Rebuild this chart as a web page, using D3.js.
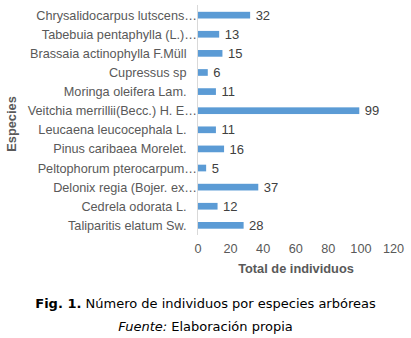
<!DOCTYPE html>
<html><head><meta charset="utf-8">
<script src="https://cdn.jsdelivr.net/npm/d3@7"></script>
<style>
body{margin:0;background:#fff;}
svg{display:block;}
</style></head>
<body>
<script>
const categories = ["Chrysalidocarpus lutscens", "Tabebuia pentaphylla (L.)", "Brassaia actinophylla F.Müll", "Cupressus sp", "Moringa oleifera Lam.", "Veitchia merrillii(Becc.) H. E", "Leucaena leucocephala L.", "Pinus caribaea Morelet.", "Peltophorum pterocarpum", "Delonix regia (Bojer. ex", "Cedrela odorata L.", "Taliparitis elatum Sw."];
const truncated = [true, true, false, false, false, true, false, false, true, true, false, false];
const values = [32, 13, 15, 6, 11, 99, 11, 16, 5, 37, 12, 28];
const xTicks = [0, 20, 40, 60, 80, 100, 120];

const W = 411, H = 338;
const svg = d3.select("body").append("svg").attr("width", W).attr("height", H);
const F = "Liberation Sans, Arial, sans-serif";

const x = d3.scaleLinear().domain([0, 120]).range([197.5, 393]);
const y = d3.scaleBand().domain(categories).range([5.5, 235]).paddingInner(0.65).paddingOuter(0.33);

// axis line
svg.append("line").attr("x1", x(0)).attr("x2", x(0)).attr("y1", 5).attr("y2", 235)
  .attr("stroke", "#d9d9d9").attr("stroke-width", 1);

// bars
svg.selectAll("rect.bar").data(values).enter().append("rect")
  .attr("x", x(0) + 0.5)
  .attr("y", (d, i) => y(categories[i]))
  .attr("width", d => x(d) - x(0))
  .attr("height", y.bandwidth())
  .attr("fill", "#5b9bd5");

// value labels
svg.selectAll("text.val").data(values).enter().append("text")
  .attr("x", d => x(d) + 6)
  .attr("y", (d, i) => y(categories[i]) + y.bandwidth() / 2)
  .attr("dy", "0.36em")
  .attr("font-family", F)
  .attr("font-size", 13)
  .attr("fill", "#404040")
  .text(d => d);

// category labels
svg.selectAll("text.cat").data(categories).enter().append("text")
  .attr("x", (d, i) => truncated[i] ? 197 : 186.5)
  .attr("y", d => y(d) + y.bandwidth() / 2)
  .attr("dy", "0.36em")
  .attr("text-anchor", "end")
  .attr("font-family", F)
  .attr("font-size", 12.7)
  .attr("fill", "#595959")
  .text((d, i) => truncated[i] ? d + "…" : d);

// x axis tick labels
const xAxis = d3.axisBottom(x).tickValues(xTicks).tickSize(0).tickPadding(0);
const gx = svg.append("g").attr("transform", "translate(0,244)").call(xAxis);
gx.select(".domain").remove();
gx.selectAll("text").attr("font-family", F)
  .attr("font-size", 12.7).attr("fill", "#595959");

// axis titles
svg.append("text").attr("x", 296).attr("y", 273).attr("text-anchor", "middle")
  .attr("font-family", F).attr("font-size", 12.8)
  .attr("font-weight", "bold").attr("fill", "#595959").text("Total de individuos");
svg.append("text").attr("transform", "translate(16,124) rotate(-90)").attr("text-anchor", "middle")
  .attr("font-family", F).attr("font-size", 12.8)
  .attr("font-weight", "bold").attr("fill", "#595959").text("Especies");

// caption
const cap = svg.append("text").attr("x", 205.5).attr("y", 308).attr("text-anchor", "middle")
  .attr("font-family", "DejaVu Sans, Verdana, sans-serif").attr("font-size", 13).attr("fill", "#000");
cap.append("tspan").attr("font-weight", "bold").text("Fig. 1.");
cap.append("tspan").text(" Número de individuos por especies arbóreas");
const src = svg.append("text").attr("x", 205.5).attr("y", 331).attr("text-anchor", "middle")
  .attr("font-family", "DejaVu Sans, Verdana, sans-serif").attr("font-size", 13).attr("fill", "#000");
src.append("tspan").attr("font-style", "italic").text("Fuente:");
src.append("tspan").text(" Elaboración propia");
</script>
</body></html>
